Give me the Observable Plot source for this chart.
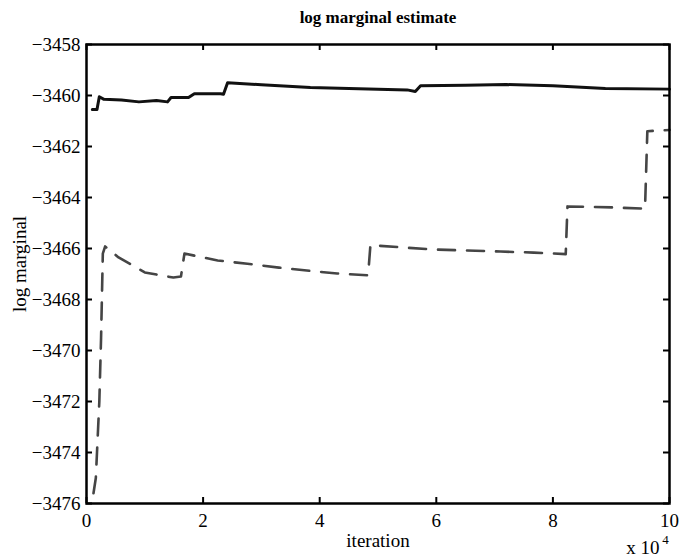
<!DOCTYPE html>
<html>
<head>
<meta charset="utf-8">
<script src="https://cdn.jsdelivr.net/npm/d3@7"></script>
<script src="https://cdn.jsdelivr.net/npm/@observablehq/plot@0.6"></script>
<style>
  html, body { margin: 0; padding: 0; background: white; }
  svg text { font-family: 'Liberation Serif', 'Times New Roman', serif; font-variant: normal; }
</style>
</head>
<body>
<div id="chart"></div>
<script>
// Data (iteration in units of 10^4, log marginal)
const solidIter = [0.10, 0.18, 0.22, 0.30, 0.60, 0.90, 1.20, 1.39, 1.45, 1.75, 1.85, 2.30, 2.35, 2.42, 3.00, 3.84, 4.50, 5.50, 5.64, 5.73, 6.50, 7.20, 8.00, 8.90, 10.0];
const solidVal  = [-3460.55, -3460.55, -3460.05, -3460.15, -3460.18, -3460.25, -3460.20, -3460.25, -3460.08, -3460.08, -3459.93, -3459.93, -3459.95, -3459.50, -3459.58, -3459.69, -3459.73, -3459.78, -3459.84, -3459.62, -3459.60, -3459.57, -3459.62, -3459.73, -3459.75];

const dashIter = [0.12, 0.16, 0.18, 0.22, 0.25, 0.28, 0.32, 0.55, 1.00, 1.49, 1.62, 1.68, 2.25, 2.76, 3.30, 3.84, 4.30, 4.83, 4.87, 5.44, 5.95, 6.53, 7.10, 7.67, 8.22, 8.25, 9.04, 9.58, 9.62, 10.0];
const dashVal  = [-3475.6, -3475.0, -3474.0, -3472.0, -3469.5, -3466.2, -3465.92, -3466.35, -3466.94, -3467.14, -3467.10, -3466.20, -3466.47, -3466.60, -3466.75, -3466.88, -3466.98, -3467.05, -3465.87, -3465.96, -3466.04, -3466.08, -3466.12, -3466.16, -3466.22, -3464.35, -3464.39, -3464.44, -3461.40, -3461.35];

const xTicks = [0, 2, 4, 6, 8, 10];
const yTicks = [-3476, -3474, -3472, -3470, -3468, -3466, -3464, -3462, -3460, -3458];

const titleText = "log marginal estimate";
const xLabel = "iteration";
const yLabel = "log marginal";
const xExpBase = "x 10";
const xExpPow = "4";

const solid = solidIter.map((x, i) => ({x, y: solidVal[i]}));
const dashed = dashIter.map((x, i) => ({x, y: dashVal[i]}));

const W = 679, H = 557;
const mL = 86, mR = 10, mT = 44, mB = 54;
const innerW = W - mL - mR, innerH = H - mT - mB;
const tickLen = 6;
const fmt = d3.format("");
const serif = "'Liberation Serif', 'Times New Roman', serif";

const chart = Plot.plot({
  width: W,
  height: H,
  marginLeft: mL,
  marginRight: mR,
  marginTop: mT,
  marginBottom: mB,
  style: {fontFamily: serif, fontSize: "19px", background: "white", color: "black"},
  x: {domain: [0, 10], axis: null},
  y: {domain: [-3476, -3458], axis: null},
  marks: [
    Plot.line(dashed, {x: "x", y: "y", stroke: "#454545", strokeWidth: 2.6, strokeDasharray: "17,12"}),
    Plot.line(solid, {x: "x", y: "y", stroke: "#111", strokeWidth: 3}),
    // inward ticks on all four sides
    Plot.tickX(xTicks, {x: d => d, insetTop: innerH - tickLen, stroke: "black", strokeWidth: 2}),
    Plot.tickX(xTicks, {x: d => d, insetBottom: innerH - tickLen, stroke: "black", strokeWidth: 2}),
    Plot.tickY(yTicks, {y: d => d, insetRight: innerW - tickLen, stroke: "black", strokeWidth: 2}),
    Plot.tickY(yTicks, {y: d => d, insetLeft: innerW - tickLen, stroke: "black", strokeWidth: 2}),
    // tick labels
    Plot.text(xTicks, {x: d => d, frameAnchor: "bottom", dy: 10, text: d => fmt(d), lineAnchor: "top", textAnchor: "middle", fontSize: 19, fontFamily: serif}),
    Plot.text(yTicks, {y: d => d, frameAnchor: "left", dx: -6, text: d => fmt(d), lineAnchor: "middle", textAnchor: "end", fontSize: 19, fontFamily: serif}),
    Plot.frame({stroke: "black", strokeWidth: 2.5}),
    Plot.text([titleText], {frameAnchor: "top", dy: -27, text: d => d, fontWeight: "bold", fontSize: 17, lineAnchor: "middle", fontFamily: serif}),
    Plot.text([xLabel], {frameAnchor: "bottom", dy: 37, text: d => d, fontSize: 19, lineAnchor: "middle", fontFamily: serif}),
    Plot.text([yLabel], {frameAnchor: "left", dx: -67, dy: -10, rotate: -90, text: d => d, fontSize: 19, textAnchor: "middle", lineAnchor: "middle", fontFamily: serif}),
    Plot.text([xExpBase], {frameAnchor: "bottom-right", dx: -10, dy: 44, text: d => d, fontSize: 19, textAnchor: "end", lineAnchor: "middle", fontFamily: serif}),
    Plot.text([xExpPow], {frameAnchor: "bottom-right", dx: -4, dy: 36, text: d => d, fontSize: 13, textAnchor: "middle", lineAnchor: "middle", fontFamily: serif})
  ]
});
document.getElementById("chart").appendChild(chart);
</script>
</body>
</html>
